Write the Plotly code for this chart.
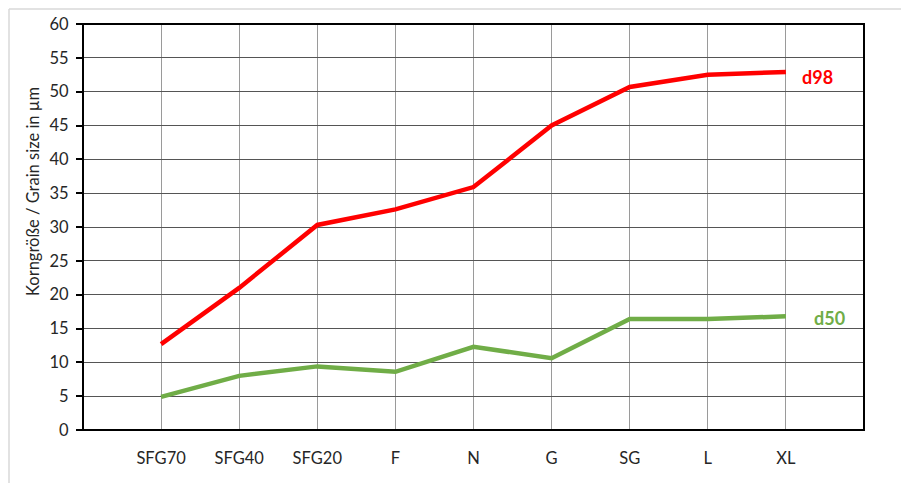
import plotly.graph_objects as go

categories = ["SFG70", "SFG40", "SFG20", "F", "N", "G", "SG", "L", "XL"]
d98 = [12.7, 21.0, 30.3, 32.6, 35.9, 45.0, 50.7, 52.5, 52.9]
d50 = [4.9, 8.0, 9.4, 8.6, 12.3, 10.6, 16.4, 16.4, 16.8]
yticks = [0, 5, 10, 15, 20, 25, 30, 35, 40, 45, 50, 55, 60]

xpos = list(range(1, len(categories) + 1))

# the page body adds an 8px offset, so the figure is sized to fit inside the window
OFF = 8
W, H = 909 - OFF, 483 - OFF
PL, PR, PT, PB = 83, 864, 24, 430  # target plot-area edges in screen pixels
ml, mr, mt, mb = PL - OFF, OFF + W - PR, PT - OFF, OFF + H - PB
pw, ph = PR - PL, PB - PT

def px(sx):
    return (sx - PL) / pw

def py(sy):
    return (PB - sy) / ph

FONT = "Lato, Open Sans, DejaVu Sans, sans-serif"

fig = go.Figure()
fig.add_trace(go.Scatter(x=xpos, y=d98, mode="lines", line=dict(color="#FF0000", width=4.5),
                         showlegend=False, hoverinfo="skip"))
fig.add_trace(go.Scatter(x=xpos, y=d50, mode="lines", line=dict(color="#70AD47", width=4.5),
                         showlegend=False, hoverinfo="skip"))

fig.add_annotation(x=px(817), y=d98[-1], xref="paper", yref="y", text="<b>d98</b>",
                   showarrow=False, font=dict(color="#FF0000", size=18, family=FONT),
                   xanchor="center", yanchor="middle", yshift=-5)
fig.add_annotation(x=px(829), y=d50[-1], xref="paper", yref="y", text="<b>d50</b>",
                   showarrow=False, font=dict(color="#70AD47", size=18, family=FONT),
                   xanchor="center", yanchor="middle", yshift=-2)

fig.add_annotation(x=px(33), y=py(192), xref="paper", yref="paper",
                   text="Korngröße / Grain size in µm", textangle=-90, showarrow=False,
                   font=dict(size=16.5, color="#262626", family=FONT),
                   xanchor="center", yanchor="middle")

# outer light border
fig.add_shape(type="line", xref="paper", yref="paper", x0=px(9), x1=px(915), y0=py(9), y1=py(9),
              line=dict(color="#D9D9D9", width=1.5), layer="below")
fig.add_shape(type="line", xref="paper", yref="paper", x0=px(9), x1=px(9), y0=py(9), y1=py(490),
              line=dict(color="#D9D9D9", width=1.5), layer="below")
# plot frame
fig.add_shape(type="rect", xref="paper", yref="paper", x0=0, x1=1, y0=0, y1=1,
              line=dict(color="#000000", width=2), layer="above")

fig.update_layout(
    width=W, height=H,
    margin=dict(l=ml, r=mr, t=mt, b=mb, autoexpand=False),
    paper_bgcolor="white", plot_bgcolor="white",
    font=dict(family=FONT, color="#262626", size=16),
    xaxis=dict(range=[0, 10], tickvals=xpos, ticktext=categories, showgrid=True,
               gridcolor="#9A9A9A", gridwidth=1, zeroline=False, showline=False, automargin=False,
               ticks="", tickfont=dict(size=16.5, color="#262626"), ticklabelstandoff=16),
    yaxis=dict(range=[0, 60], tickvals=yticks, showgrid=True, gridcolor="#555555", gridwidth=1.2,
               zeroline=False, showline=False, automargin=False, ticks="outside", ticklen=6,
               tickcolor="#000000", tickwidth=1.5, tickfont=dict(size=16.5, color="#262626"),
               ticklabelstandoff=4),
)

fig.write_html("out.html")
